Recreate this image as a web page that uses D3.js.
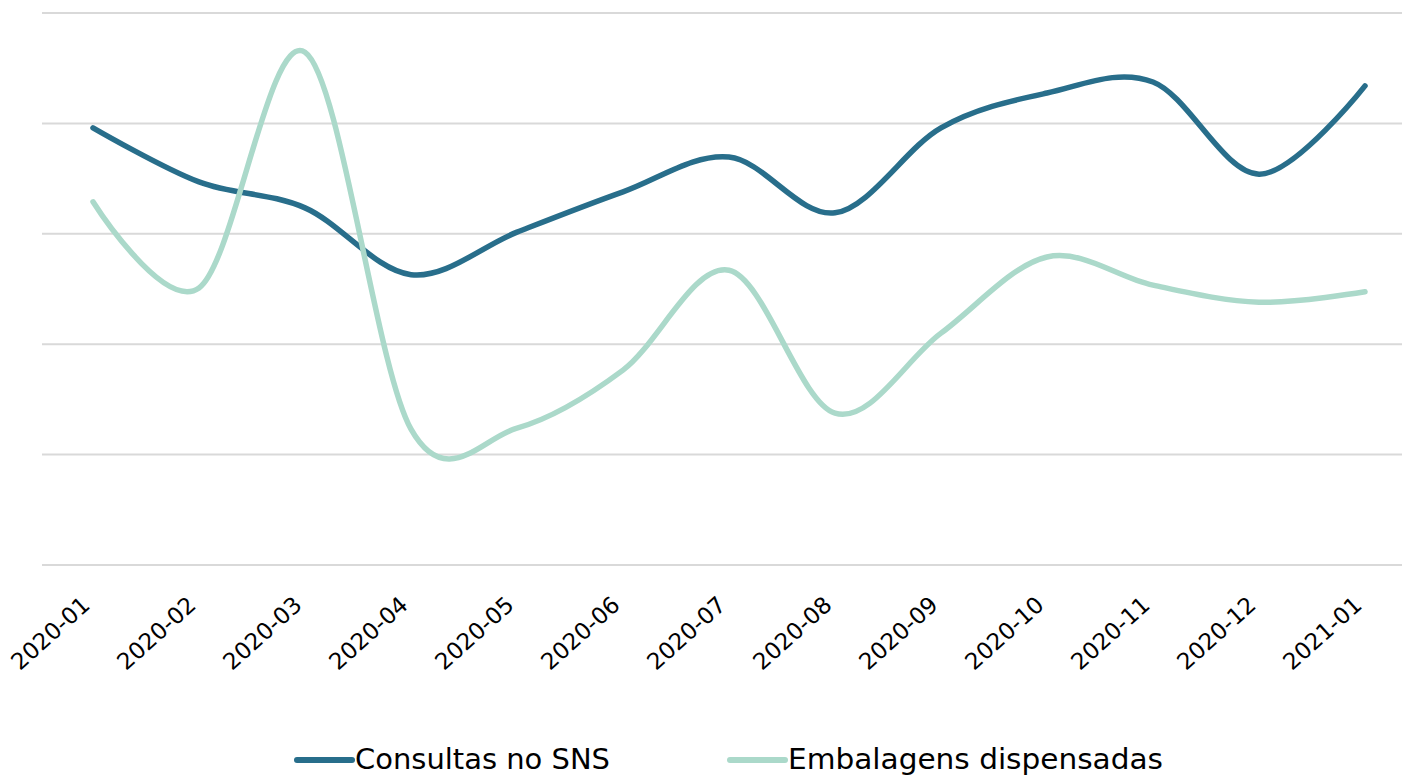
<!DOCTYPE html>
<html><head><meta charset="utf-8">
<script src="https://cdn.jsdelivr.net/npm/d3@7"></script>
<style>html,body{margin:0;padding:0;background:#fff;}svg{display:block;}</style>
</head><body>
<svg id="c" width="1402" height="775"></svg>
<script>
const categories = ["2020-01","2020-02","2020-03","2020-04","2020-05","2020-06","2020-07","2020-08","2020-09","2020-10","2020-11","2020-12","2021-01"];
const consultas = [79.2, 69.4, 64.7, 52.6, 60.3, 67.6, 73.9, 63.8, 79.2, 85.5, 87.5, 70.8, 86.8];
const embalagens = [65.8, 50.2, 92.9, 24.6, 24.8, 35.3, 53.4, 27.5, 42.0, 55.8, 50.7, 47.6, 49.5];
const yTicks = [0, 20, 40, 60, 80, 100];
const seriesNames = ["Consultas no SNS", "Embalagens dispensadas"];
const colors = ["#286e8b", "#abd9ca"];

const svg = d3.select("#c");
const x = d3.scalePoint().domain(categories).range([93, 1365]);
const y = d3.scaleLinear().domain([0, 100]).range([565, 13]);

// gridlines
svg.append("g").selectAll("line").data(yTicks).join("line")
  .attr("x1", 42).attr("x2", 1402)
  .attr("y1", d => y(d)).attr("y2", d => y(d))
  .attr("stroke", "#d9d9d9").attr("stroke-width", 2);

// x axis labels
const xAxis = d3.axisBottom(x).tickSize(0).tickPadding(0);
const gx = svg.append("g").attr("transform", "translate(0,565)").call(xAxis);
gx.select(".domain").remove();
gx.selectAll("text")
  .attr("font-family", "'DejaVu Sans', sans-serif")
  .attr("font-size", 23)
  .attr("fill", "#000")
  .attr("text-anchor", "end")
  .attr("dy", null)
  .attr("y", 0)
  .attr("transform", "translate(-2,42) rotate(-42)");

const line = d3.line()
  .x((d, i) => x(categories[i]))
  .y(d => y(d))
  .curve(d3.curveCardinal.tension(0));

[consultas, embalagens].forEach((s, k) => {
  svg.append("path").datum(s)
    .attr("d", line)
    .attr("fill", "none")
    .attr("stroke", colors[k])
    .attr("stroke-width", 5.5)
    .attr("stroke-linecap", "round");
});

// legend
const legX = [297, 730];
const legLen = [55, 55];
const legTextW = [255, 375];
const lg = svg.append("g");
seriesNames.forEach((n, k) => {
  lg.append("line").attr("x1", legX[k]).attr("x2", legX[k] + legLen[k])
    .attr("y1", 760).attr("y2", 760)
    .attr("stroke", colors[k]).attr("stroke-width", 6).attr("stroke-linecap", "round");
  lg.append("text").attr("x", legX[k] + legLen[k] + 3).attr("y", 769)
    .attr("font-family", "'DejaVu Sans', sans-serif")
    .attr("font-size", 29)
    .attr("textLength", legTextW[k])
    .attr("lengthAdjust", "spacingAndGlyphs")
    .attr("fill", "#000")
    .text(n);
});
</script>
</body></html>
